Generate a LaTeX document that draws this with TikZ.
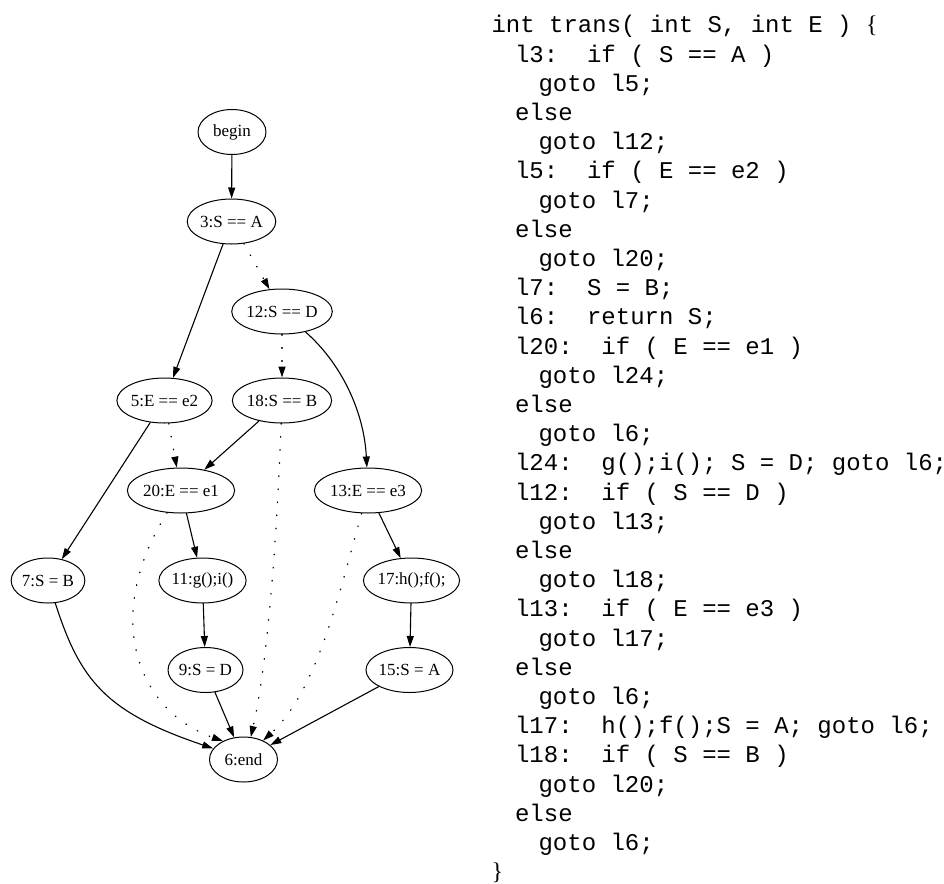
\documentclass[tikz,border=0pt]{standalone}
\usepackage{fontspec}
\setmainfont{Liberation Serif}
\setmonofont{Liberation Mono}
\usepackage{tikz}
\usetikzlibrary{shapes.geometric}
\usetikzlibrary{arrows.meta}

\newcommand{\codelbl}{\hspace*{23.5pt}}
\newcommand{\codejmp}{\hspace*{47pt}}

\begin{document}
\begin{tikzpicture}[line cap=round,line join=round,>={Triangle[length=11pt,width=7pt]},x=1pt,y=-1pt,line width=1.1pt,
    blk/.style={ellipse, draw, line width=1pt, inner sep=0pt, minimum width=68pt, minimum height=45pt, font=\fontsize{17}{20}\selectfont},
    jmp/.style={->},
    fls/.style={->, line width=1.3pt, dash pattern=on 0.6pt off 12.5pt},
    src/.style={anchor=north west, inner sep=0pt, align=left, font=\fontsize{24}{29.2}\selectfont\ttfamily}]
    \useasboundingbox (0,0) rectangle (944,883);

    % control flow graph
    \node[blk] (begin) at (232,132) {begin};
    \node[blk] (s3) at (231.5,221.5) {3:S == A};
    \node[blk] (s12) at (282,311.5) {12:S == D};
    \node[blk] (s5) at (164.5,400.5) {5:E == e2};
    \node[blk] (s18) at (282,400.5) {18:S == B};
    \node[blk] (s20) at (181,490.5) {20:E == e1};
    \node[blk] (s13) at (368,490.5) {13:E == e3};
    \node[blk] (s7) at (48,580.5) {7:S = B};
    \node[blk] (s11) at (202.5,580.5) {11:g();i()};
    \node[blk] (s17) at (411.5,580.5) {17:h();f();};
    \node[blk] (s9) at (205.5,670) {9:S = D};
    \node[blk] (s15) at (409.5,670) {15:S = A};
    \node[blk] (s6) at (243.5,759.5) {6:end};

    \draw[jmp] (begin) -- (s3);
    \draw[jmp] (s3) -- (s5);
    \draw[fls] (s3) -- (s12);
    \draw[jmp] (s12) .. controls (340,362) and (364,410) .. (s13);
    \draw[fls] (s12) -- (s18);
    \draw[jmp] (s5) -- (s7);
    \draw[fls] (s5) -- (s20);
    \draw[jmp] (s18) -- (s20);
    \draw[fls] (s18) .. controls (276,560) and (266,670) .. (s6.72);
    \draw[jmp] (s20) -- (s11);
    \draw[fls] (s20) .. controls (100,620) and (140,712) .. (s6.138);
    \draw[jmp] (s13) -- (s17);
    \draw[fls] (s13) .. controls (340,590) and (318,690) .. (s6.44);
    \draw[jmp] (s7) .. controls (80,680) and (105,712) .. (s6.160);
    \draw[jmp] (s11) -- (s9);
    \draw[jmp] (s9) -- (s6);
    \draw[jmp] (s17) -- (s15);
    \draw[jmp] (s15) -- (s6);

    % source code
    \node[src] (code) at (491,11.9) {\strut int~trans(~int~S,~int~E~)~{\rmfamily\{}\\
        \codelbl l3:~~if~(~S~==~A~)\\
        \codejmp goto~l5;\\
        \codelbl else\\
        \codejmp goto~l12;\\
        \codelbl l5:~~if~(~E~==~e2~)\\
        \codejmp goto~l7;\\
        \codelbl else\\
        \codejmp goto~l20;\\
        \codelbl l7:~~S~=~B;\\
        \codelbl l6:~~return~S;\\
        \codelbl l20:~~if~(~E~==~e1~)\\
        \codejmp goto~l24;\\
        \codelbl else\\
        \codejmp goto~l6;\\
        \codelbl l24:~~g();i();~S~=~D;~goto~l6;\\
        \codelbl l12:~~if~(~S~==~D~)\\
        \codejmp goto~l13;\\
        \codelbl else\\
        \codejmp goto~l18;\\
        \codelbl l13:~~if~(~E~==~e3~)\\
        \codejmp goto~l17;\\
        \codelbl else\\
        \codejmp goto~l6;\\
        \codelbl l17:~~h();f();S~=~A;~goto~l6;\\
        \codelbl l18:~~if~(~S~==~B~)\\
        \codejmp goto~l20;\\
        \codelbl else\\
        \codejmp goto~l6;\\
        {\rmfamily\}}};
\end{tikzpicture}
\end{document}
